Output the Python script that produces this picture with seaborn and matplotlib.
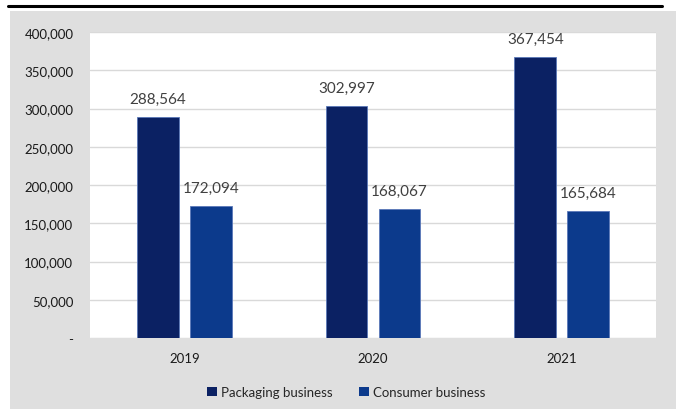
import matplotlib
matplotlib.use("Agg")
import matplotlib.pyplot as plt
import seaborn as sns
import pandas as pd
from matplotlib.patches import Rectangle, Patch
from matplotlib.lines import Line2D
from matplotlib.ticker import FuncFormatter

years = ["2019", "2020", "2021"]
packaging = [288564, 302997, 367454]
consumer = [172094, 168067, 165684]
series_names = ["Packaging business", "Consumer business"]
colors = ["#0b2163", "#0c3a8c"]

df = pd.DataFrame({
    "year": years * 2,
    "value": packaging + consumer,
    "segment": [series_names[0]] * 3 + [series_names[1]] * 3,
})

sns.set_theme(style="white")
plt.rcParams["font.family"] = ["Lato", "DejaVu Sans"]

W, H = 676, 410
fig = plt.figure(figsize=(W / 100, H / 100), dpi=100)
fig.patch.set_facecolor("white")

# gray chart area background
fig.add_artist(Rectangle((10 / W, 0), 1 - 10 / W, (H - 12) / H,
                         transform=fig.transFigure, facecolor="#dfdfdf",
                         edgecolor="none", zorder=0))
# black rule at top
fig.add_artist(Line2D([8 / W, 662 / W], [1 - 7 / H, 1 - 7 / H],
                      transform=fig.transFigure, color="black", lw=2.2))

ax = fig.add_axes([90 / W, (H - 339) / H, 566 / W, 306 / H])
ax.set_facecolor("white")

sns.barplot(data=df, x="year", y="value", hue="segment", palette=colors,
            saturation=1, width=0.56, gap=0.21, ax=ax, legend=False,
            edgecolor="#5a78b8", linewidth=0.6, zorder=3)

ax.set_ylim(0, 400000)
ax.set_yticks(range(0, 400001, 50000))
ax.yaxis.set_major_formatter(FuncFormatter(lambda v, p: "-" if v == 0 else f"{int(v):,}"))
ax.grid(axis="y", color="#d9d9d9", lw=1, zorder=0)
ax.set_axisbelow(True)
for s in ax.spines.values():
    s.set_visible(False)
ax.tick_params(axis="y", length=0, pad=12, labelsize=9.5, labelcolor="#1a1a1a")
ax.tick_params(axis="x", length=0, pad=10, labelsize=9.5, labelcolor="#1a1a1a")
ax.set_xlabel("")
ax.set_ylabel("")

for cont in ax.containers:
    ax.bar_label(cont, labels=[f"{int(b.get_height()):,}" for b in cont],
                 padding=8, fontsize=11, color="#404040")

handles = [Patch(facecolor=c, edgecolor="none") for c in colors]
fig.legend(handles, series_names, loc="center", bbox_to_anchor=(346 / W, 1 - 393 / H),
           ncol=2, frameon=False, fontsize=9.5, handlelength=0.75, handleheight=0.75,
           handletextpad=0.3, columnspacing=2.0)

fig.savefig("out.png", dpi=100)
